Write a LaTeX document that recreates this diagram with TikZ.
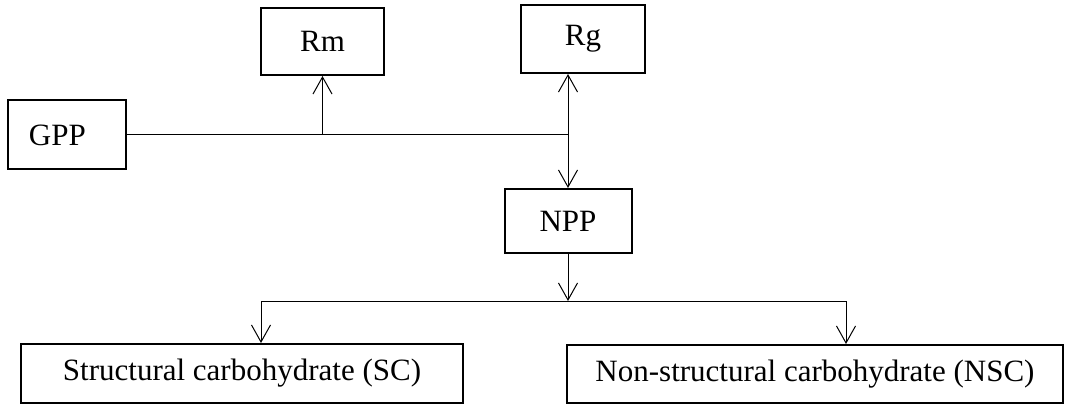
\documentclass[tikz,border=0pt]{standalone}
\usepackage{fontspec}
\setmainfont{Liberation Serif}
\usepackage{tikz}
\usetikzlibrary{positioning,arrows.meta,calc}

\begin{document}
\begin{tikzpicture}[
    x=0.4pt, y=-0.4pt,
    every node/.style = {font=\fontsize{12.4}{14}\selectfont},
    box/.style        = {rectangle, draw=black, line width=0.8pt, inner sep=0pt},
    arr/.style        = {-{Straight Barb[length=6.8pt, width=7.6pt]}, line width=0.4pt, draw=black},
    link/.style       = {line width=0.4pt, draw=black},
]
\useasboundingbox (0,0) rectangle (1065,405);

% Top row: gross production and the two respiration terms
\node[box, minimum width=47.2pt, minimum height=27.6pt, text width=30.4pt,
      align=left, inner xsep=8.4pt] (GPP) at (67,135) {GPP};
\node[box, minimum width=49.2pt, minimum height=26.8pt] (Rm) at (322.5,41.5) {Rm};
\node[box, minimum width=49.6pt, minimum height=27.2pt] (Rg) at (583,39) {Rg};

% Net production
\node[box, minimum width=50.8pt, minimum height=25.6pt] (NPP) at (568,221) {NPP};

% Bottom row: carbohydrate pools
\node[box, minimum width=176.8pt, minimum height=23.6pt] (SC) at (242,373.5)
    {Structural carbohydrate (SC)};
\node[box, minimum width=198.4pt, minimum height=23.2pt] (NSC) at (815,374)
    {Non-structural carbohydrate (NSC)};

% Junctions on the split lines
\coordinate (jT) at (568,135);
\coordinate (jB) at (568,301);
\coordinate (jL) at (261,301);
\coordinate (jR) at (846,301);

% GPP splits into Rm, Rg and NPP
\draw[link] (GPP.east) -- (jT);
\draw[arr] (Rm.south |- jT) -- (Rm.south);
\draw[arr, {Straight Barb[length=6.8pt, width=7.6pt]}-{Straight Barb[length=6.8pt, width=7.6pt]}]
    (Rg.south -| jT) -- (NPP.north);

% NPP is shared between SC and NSC
\draw[arr] (NPP.south) -- (jB);
\draw[link] (jL) -- (jR);
\draw[arr] (jL) -- (jL |- SC.north);
\draw[arr] (jR) -- (jR |- NSC.north);

\end{tikzpicture}
\end{document}
